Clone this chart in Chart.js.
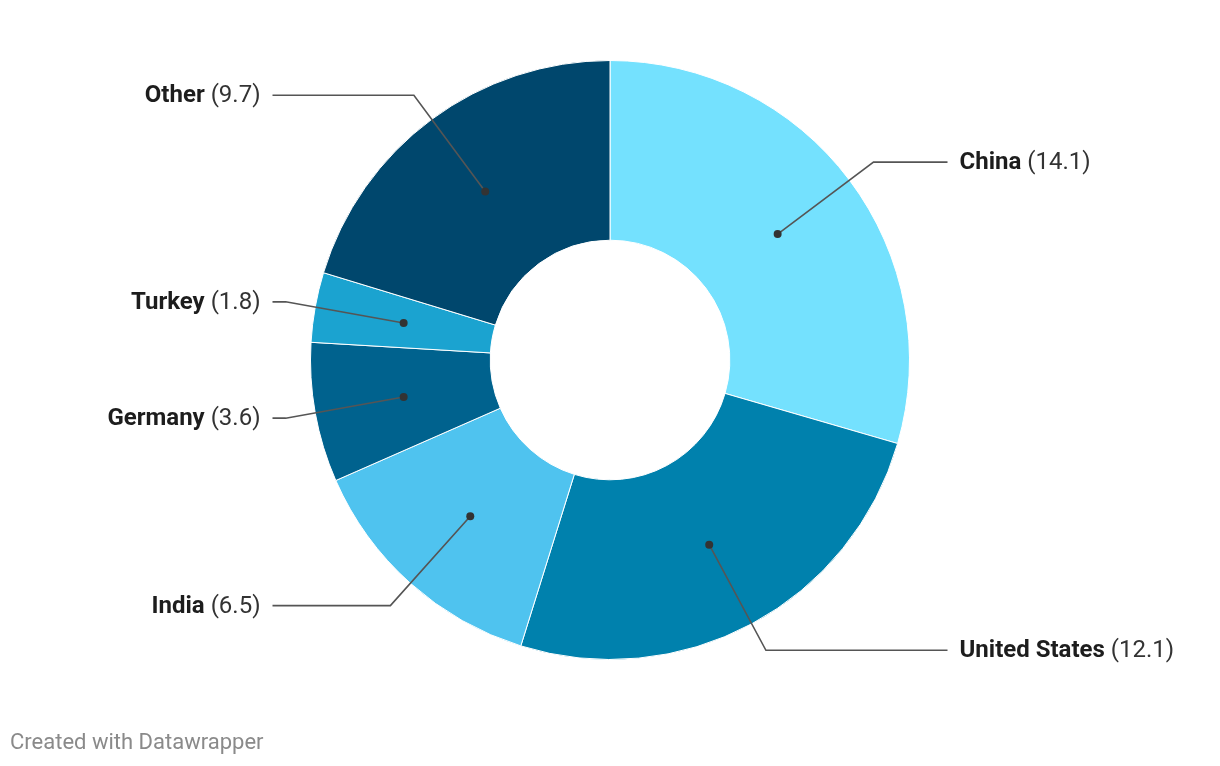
<!DOCTYPE html>
<html>
<head>
<meta charset="utf-8">
<script src="https://cdn.jsdelivr.net/npm/chart.js@4.4.1/dist/chart.umd.min.js"></script>
<style>
  html, body { margin: 0; padding: 0; background: #fff; }
  #wrap { position: relative; width: 1220px; height: 766px; }
  #credit { position: absolute; left: 10px; top: 729px; font: 22px Roboto, sans-serif; line-height: 26px; color: #8a8a8a; }
</style>
</head>
<body>
<div id="wrap">
  <canvas id="chart" width="1220" height="766"></canvas>
  <div id="credit">Created with Datawrapper</div>
</div>
<script>
const countries = ['China', 'United States', 'India', 'Germany', 'Turkey', 'Other'];
const values = [14.1, 12.1, 6.5, 3.6, 1.8, 9.7];
const colors = ['#74e1fe', '#0081ad', '#4fc3ef', '#00628e', '#1ba3d0', '#00476d'];

// leader lines + labels, placed from each arc's own geometry
const calloutLabels = {
    id: 'calloutLabels',
    afterDraw(chart) {
        const ctx = chart.ctx;
        const meta = chart.getDatasetMeta(0);
        ctx.save();
        meta.data.forEach((arc, i) => {
            const p = arc.getProps(['x', 'y', 'startAngle', 'endAngle', 'innerRadius', 'outerRadius'], true);
            const mid = (p.startAngle + p.endAngle) / 2;
            const rDot = (p.innerRadius + p.outerRadius) / 2;
            const rElbow = p.outerRadius + 30;
            const dx = Math.cos(mid), dy = Math.sin(mid);
            const right = dx >= 0;
            const dotX = p.x + dx * rDot, dotY = p.y + dy * rDot;
            const elX = p.x + dx * rElbow, elY = p.y + dy * rElbow;
            const endX = p.x + (right ? 1 : -1) * (p.outerRadius + 38);
            const textX = p.x + (right ? 1 : -1) * (p.outerRadius + 50);

            ctx.strokeStyle = '#555';
            ctx.lineWidth = 1.6;
            ctx.beginPath();
            ctx.moveTo(dotX, dotY);
            ctx.lineTo(elX, elY);
            ctx.lineTo(endX, elY);
            ctx.stroke();

            ctx.fillStyle = '#333';
            ctx.beginPath();
            ctx.arc(dotX, dotY, 4, 0, Math.PI * 2);
            ctx.fill();

            const name = countries[i];
            const val = ' (' + values[i].toFixed(1) + ')';
            ctx.textBaseline = 'middle';
            ctx.textAlign = 'left';
            ctx.font = 'bold 24px Roboto';
            const wName = ctx.measureText(name).width;
            ctx.font = '24px Roboto';
            const wVal = ctx.measureText(val).width;
            const x0 = right ? textX : textX - wName - wVal;
            ctx.font = 'bold 24px Roboto';
            ctx.fillStyle = '#1d1d1d';
            ctx.fillText(name, x0, elY + 1);
            ctx.font = '24px Roboto';
            ctx.fillStyle = '#333';
            ctx.fillText(val, x0 + wName, elY + 1);
        });
        ctx.restore();
    }
};

new Chart(document.getElementById('chart'), {
    type: 'doughnut',
    data: {
        labels: countries,
        datasets: [{
            data: values,
            backgroundColor: colors,
            borderColor: '#ffffff',
            borderWidth: 1
        }]
    },
    options: {
        responsive: false,
        animation: false,
        cutout: '40%',
        layout: { padding: { top: 60, bottom: 106, left: 0, right: 0 } },
        plugins: {
            legend: { display: false },
            tooltip: { enabled: false }
        }
    },
    plugins: [calloutLabels]
});
</script>
</body>
</html>
